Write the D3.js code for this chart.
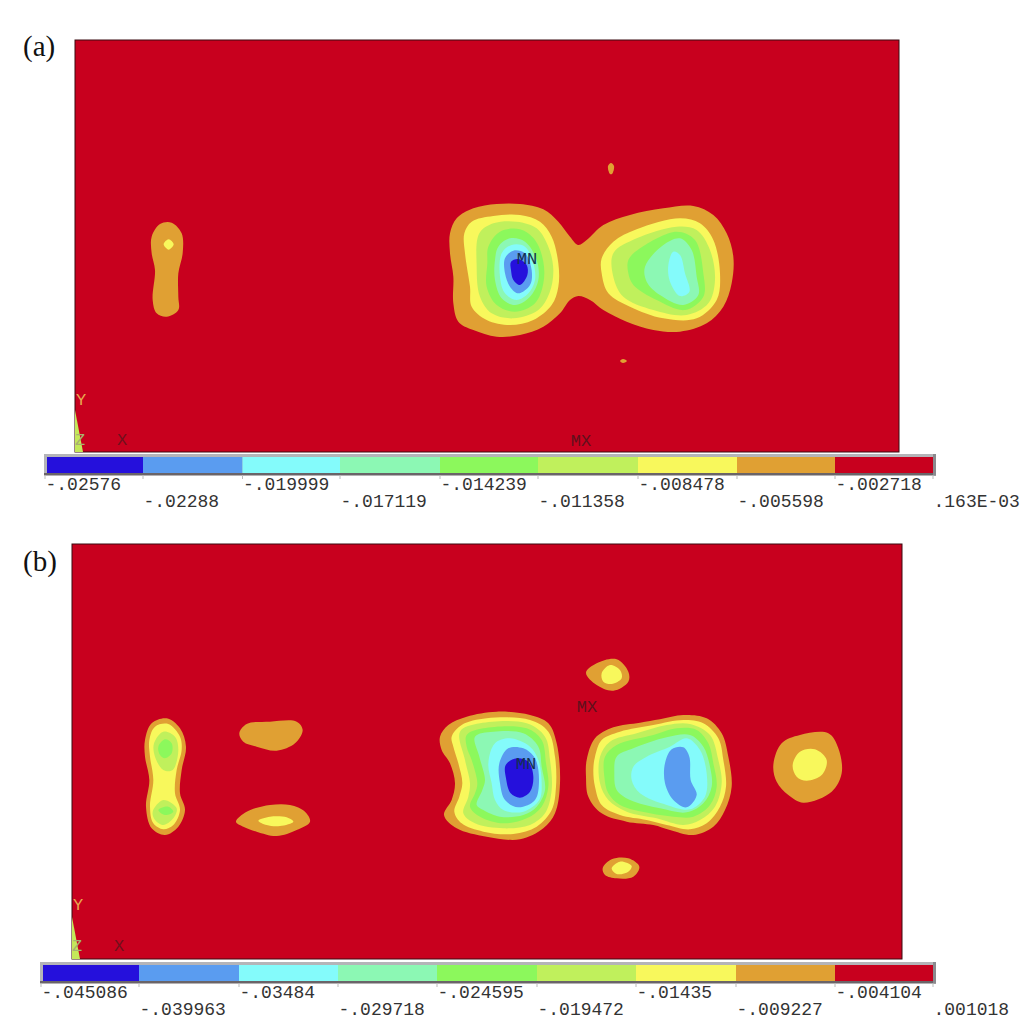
<!DOCTYPE html>
<html><head><meta charset="utf-8">
<script src="https://cdn.jsdelivr.net/npm/d3@7"></script>
<style>html,body{margin:0;background:#fff}svg{display:block}</style></head>
<body><svg id="c" width="1034" height="1034"></svg>
<script>
// Contour band colours, lowest to highest (legend order)
const bandColors = ["#2510dc","#5a9cf0","#84fbfb","#8cf8b4","#8cf85c","#c0f05c","#f8f85c","#e0a033","#c8001e"];
const legendA = ["-.02576","-.02288","-.019999","-.017119","-.014239","-.011358","-.008478","-.005598","-.002718",".163E-03"];
const legendB = ["-.045086","-.039963","-.03484","-.029718","-.024595","-.019472","-.01435","-.009227","-.004104",".001018"];

// Contour outlines: [band index, outline]
const aCentre = [
 [7,[[60,130],[80,85],[130,55],[200,42],[270,42],[340,58],[385,95],[420,140],[445,165],[470,150],[520,105],[600,75],[700,55],[790,48],[850,75],[890,130],[910,200],[905,280],[880,350],[830,400],[750,425],[670,420],[590,395],[520,360],[480,330],[445,318],[420,330],[390,370],[340,410],[270,435],[200,440],[130,420],[85,395],[70,340],[70,260],[60,190]]],
 [6,[[103,130],[125,95],[190,78],[270,75],[330,95],[365,140],[385,220],[385,290],[365,345],[310,390],[240,405],[170,390],[125,350],[120,290],[105,190]]],
 [5,[[148,130],[190,100],[260,95],[320,115],[355,170],[370,240],[358,310],[325,360],[250,385],[185,370],[150,320],[140,230]]],
 [4,[[175,170],[210,125],[270,118],[315,150],[340,215],[340,280],[315,340],[255,365],[200,345],[170,290],[172,220]]],
 [3,[[205,170],[240,145],[285,155],[320,210],[325,270],[300,320],[255,345],[215,325],[195,270],[195,210]]],
 [2,[[215,190],[245,165],[285,170],[310,220],[315,270],[295,310],[260,330],[225,310],[210,260]]],
 [1,[[225,205],[250,182],[285,190],[305,240],[300,285],[265,310],[240,290],[225,250]]],
 [0,[[243,215],[265,207],[290,225],[292,255],[270,285],[250,270],[243,240]]],
 [6,[[515,205],[550,155],[620,118],[750,85],[810,100],[850,150],[870,250],[860,330],[800,385],[700,385],[600,350],[535,310],[515,250]]],
 [5,[[550,190],[620,145],[740,110],[800,120],[840,180],[855,270],[835,340],[770,375],[670,360],[580,320],[550,260]]],
 [4,[[595,210],[630,175],[740,125],[795,150],[820,250],[820,320],[765,360],[680,330],[610,285],[595,250]]],
 [3,[[645,230],[700,165],[750,145],[785,180],[800,260],[805,315],[760,345],[690,315],[650,275]]],
 [2,[[730,185],[750,195],[765,250],[778,305],[750,318],[720,275],[715,225]]]
];
const aLeft = [
 [7,[[65,110],[90,72],[125,68],[155,100],[158,160],[145,220],[145,290],[145,330],[110,350],[80,340],[68,300],[75,210],[65,160]]],
 [6,[[101,133],[116,118],[131,133],[116,149]]]
];
const aSpecks = [
 [7,[[608,166],[611,163],[614,166],[612,174],[610,174]]],
 [7,[[620,361],[623,359],[627,361],[623,363]]]
];
const bCentre = [
 [7,[[60,260],[85,225],[140,200],[230,185],[330,195],[385,220],[410,280],[420,400],[405,490],[370,535],[300,568],[200,560],[110,535],[72,495],[95,450],[105,400],[90,340],[65,300]]],
 [6,[[95,260],[125,225],[200,205],[330,210],[385,245],[405,320],[408,410],[395,480],[350,530],[280,552],[190,545],[125,520],[103,485],[118,440],[127,400],[115,340],[100,290]]],
 [5,[[120,245],[180,220],[320,220],[375,260],[390,330],[395,420],[375,490],[330,525],[250,535],[165,520],[130,490],[145,440],[150,400],[135,330]]],
 [4,[[140,255],[190,235],[320,235],[365,270],[378,340],[385,410],[365,470],[320,505],[250,520],[180,500],[150,470],[165,430],[172,400],[155,330],[140,290]]],
 [3,[[165,260],[220,245],[310,250],[355,290],[365,350],[375,420],[350,470],[310,495],[240,500],[190,480],[170,465],[187,420],[195,390],[178,320]]],
 [2,[[225,280],[270,265],[330,290],[355,330],[365,400],[358,450],[310,485],[250,480],[225,450],[215,400],[205,340]]],
 [1,[[238,340],[265,295],[310,295],[345,325],[357,390],[345,450],[295,472],[255,450],[240,400]]],
 [0,[[257,345],[290,325],[325,335],[340,380],[330,425],[300,443],[272,430],[258,385]]],
 [7,[[500,330],[525,265],[580,232],[660,218],[720,208],[790,195],[860,205],[905,250],[925,320],[935,410],[915,480],[880,530],[820,555],[750,540],[700,525],[620,515],[545,490],[505,440],[498,380]]],
 [6,[[525,320],[545,270],[600,245],[700,225],[790,210],[850,220],[895,265],[910,330],[918,410],[900,470],[860,520],[810,538],[740,525],[680,510],[600,495],[545,465],[525,410],[520,360]]],
 [5,[[540,320],[570,275],[650,250],[740,225],[810,222],[870,255],[895,330],[905,400],[885,470],[840,510],[790,525],[710,505],[620,485],[565,450],[540,400]]],
 [4,[[555,320],[590,285],[700,255],[770,235],[830,240],[865,280],[880,340],[890,410],[870,465],[820,500],[760,500],[690,490],[600,465],[565,430],[553,380]]],
 [3,[[590,320],[640,295],[740,262],[810,255],[850,290],[870,350],[875,410],[850,460],[800,487],[720,475],[630,450],[590,420],[583,370]]],
 [2,[[640,350],[680,320],[750,290],[800,265],[840,300],[860,370],[855,440],[810,478],[740,465],[660,430],[635,390]]],
 [1,[[735,340],[755,298],[790,292],[808,320],[812,390],[830,435],[800,472],[760,450],[735,400]]],
 [7,[[498,68],[530,40],[590,28],[625,65],[625,95],[580,122],[530,105]]],
 [6,[[545,70],[570,45],[600,60],[605,85],[575,102],[550,95]]],
 [7,[[548,655],[575,628],[625,625],[658,650],[640,680],[590,685],[555,675]]],
 [6,[[575,655],[600,635],[635,648],[625,665],[590,672]]],
 [7,[[1060,345],[1085,280],[1140,255],[1225,250],[1255,295],[1265,370],[1235,425],[1150,458],[1105,435],[1070,395]]],
 [6,[[1118,345],[1140,305],[1185,298],[1220,330],[1205,375],[1160,392],[1130,380]]]
];
const bLeft = [
 [7,[[45,120],[65,70],[110,55],[150,85],[168,140],[155,210],[150,280],[165,330],[145,380],[105,405],[65,385],[48,320],[58,240],[45,170]]],
 [6,[[58,120],[75,80],[115,72],[150,110],[155,150],[140,210],[135,280],[150,330],[130,375],[100,388],[70,370],[60,320],[70,240],[60,170]]],
 [5,[[72,130],[100,95],[135,110],[145,150],[128,210],[100,210],[75,170]]],
 [5,[[68,335],[100,300],[140,325],[130,355],[100,375],[75,360]]],
 [4,[[85,140],[105,118],[125,130],[125,160],[105,175],[90,165]]],
 [4,[[85,330],[115,320],[130,335],[105,345]]],
 [7,[[328,100],[350,72],[420,65],[500,65],[518,90],[495,130],[440,152],[380,140],[340,125]]],
 [7,[[318,365],[350,335],[420,315],[480,315],[525,335],[540,365],[500,390],[440,408],[380,395],[340,380]]],
 [6,[[385,362],[420,350],[470,352],[490,365],[450,378],[410,375]]]
];

const svg = d3.select("#c");
const mono = "'Liberation Mono', monospace";

function cluster(outlines, x, y) {
  const line = d3.line().x(d => x(d[0])).y(d => y(d[1])).curve(d3.curveCatmullRomClosed.alpha(0.5));
  svg.append("g").selectAll("path").data(outlines).join("path")
    .attr("d", d => line(d[1])).attr("fill", d => bandColors[d[0]]);
}
const reading = (d, r) => d3.scaleLinear().domain(d).range(r);

function panel(p) {
  svg.append("rect").attr("x", p.x0).attr("y", p.y0).attr("width", p.x1 - p.x0).attr("height", p.y1 - p.y0)
    .attr("fill", bandColors[8]).attr("stroke", "#3a0a10").attr("stroke-width", 1);
  svg.append("path").attr("fill", "#c4e85a")
    .attr("d", d3.line()([[p.x0, p.y1 - 42], [p.x0 + 8, p.y1], [p.x0, p.y1]]));
  p.clusters.forEach(c => cluster(c[0], c[1], c[2]));
  // colour bar
  const x = d3.scaleLinear().domain(d3.range(p.ticks.length)).range(p.ticks);
  svg.append("rect").attr("x", p.ticks[0] - 1).attr("y", p.barY - 3).attr("width", p.ticks[9] - p.ticks[0] + 4).attr("height", 21).attr("fill", "#b4b4b8");
  svg.append("rect").attr("x", p.ticks[0] - 1).attr("y", p.barY + 16).attr("width", p.ticks[9] - p.ticks[0] + 4).attr("height", 2.5).attr("fill", "#6a6468");
  svg.append("rect").attr("x", p.ticks[9] + 0).attr("y", p.barY - 3).attr("width", 3).attr("height", 21.5).attr("fill", "#8a8a8e");
  svg.append("g").selectAll("rect").data(bandColors).join("rect")
    .attr("x", (d, i) => x(i) + (i === 0 ? 2 : 0)).attr("y", p.barY)
    .attr("width", (d, i) => x(i + 1) - x(i) - (i === 0 ? 2 : 0)).attr("height", 16).attr("fill", d => d);
  svg.append("g").selectAll("line").data(p.ticks).join("line")
    .attr("x1", d => d).attr("x2", d => d).attr("y1", p.barY + 18).attr("y2", p.barY + 22)
    .attr("stroke", "#bbb");
  svg.append("g").selectAll("text").data(p.labels).join("text")
    .attr("x", (d, i) => x(i) + 0.5).attr("y", (d, i) => p.barY + (i % 2 ? 50 : 33))
    .attr("font-family", mono).attr("font-size", 18).attr("fill", "#333").text(d => d);
  // annotations
  svg.append("g").selectAll("text").data(p.notes).join("text")
    .attr("x", d => d[1]).attr("y", d => d[2]).attr("fill", d => d[3]).attr("text-anchor", "middle")
    .attr("font-family", mono).attr("font-size", 17).text(d => d[0]);
  svg.append("text").attr("x", 23).attr("y", p.tagY).attr("font-family", "'Liberation Serif', serif")
    .attr("font-size", 29).attr("fill", "#111").text(p.tag);
}

panel({ tag: "(a)", tagY: 56, x0: 75, x1: 899, y0: 40, y1: 452, barY: 457,
  ticks: [45, 143, 242.5, 340, 440, 538, 638, 737, 835, 933], labels: legendA,
  clusters: [
    [aCentre, reading([0, 960], [430, 750]), reading([0, 480], [190, 350])],
    [aLeft, reading([0, 240], [130, 210]), reading([0, 390], [200, 330])],
    [aSpecks, d3.scaleIdentity(), d3.scaleIdentity()]
  ],
  notes: [["Y", 81, 405, "#e8a850"], ["Z", 80, 445, "#a8b070"], ["X", 122, 445, "#70101c"], ["MX", 581, 446, "#60101c"], ["MN", 527, 264, "#123050"]]
});
panel({ tag: "(b)", tagY: 571, x0: 72, x1: 902, y0: 544, y1: 959, barY: 965,
  ticks: [41, 139, 239, 338, 437, 537, 636, 736, 835, 933], labels: legendB,
  clusters: [
    [bCentre, reading([0, 1320], [420, 860]), reading([0, 720], [650, 890])],
    [bLeft, reading([0, 600], [130, 330]), reading([0, 450], [700, 850])]
  ],
  notes: [["Y", 78, 910, "#e8a850"], ["Z", 77, 951, "#a8b070"], ["X", 119, 951, "#70101c"], ["MX", 587, 712, "#60101c"], ["MN", 526, 769, "#123050"]]
});
</script></body></html>
